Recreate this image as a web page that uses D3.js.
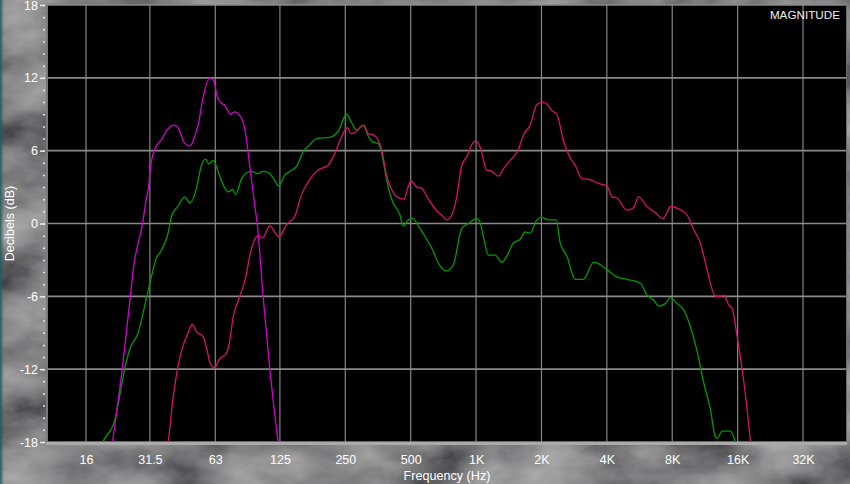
<!DOCTYPE html>
<html>
<head>
<meta charset="utf-8">
<script src="https://cdn.jsdelivr.net/npm/d3@7"></script>
<style>
html,body{margin:0;padding:0;background:#3a3a3a;overflow:hidden;}
svg{display:block;}
text{font-family:"Liberation Sans",Arial,sans-serif;}
</style>
</head>
<body>
<svg id="chart" width="850" height="484"></svg>
<script>
// ---------- data ----------
const xTickValues = [16, 31.5, 63, 125, 250, 500, 1000, 2000, 4000, 8000, 16000, 32000];
const xTickLabels = ["16","31.5","63","125","250","500","1K","2K","4K","8K","16K","32K"];
const yTickValues = [-18, -12, -6, 0, 6, 12, 18];
const yTickLabels = ["-18","-12","-6","0","6","12","18"];

const magentaHz = [20.1,21.2,23.5,25.6,26.5,29.2,30.3,31.1,31.6,33.1,35.6,37.5,40.2,42.0,45.6,48.4,50.7,52.8,55.1,59.4,62.2,64.2,67.3,69.1,74.2,77.4,79.7,84.5,87.7,90.1,92.5,96.4,98.1,104.6,112.3,122.6,128.9];
const magentaDb = [-21.1,-18.0,-12.0,-6.0,-3.6,0.1,2.0,3.1,4.4,6.1,6.9,7.6,8.1,8.0,6.6,6.4,7.2,8.3,10.2,12.0,11.7,10.5,9.9,9.8,9.0,9.2,9.1,8.4,6.9,5.2,3.6,1.1,0.1,-6.0,-12.0,-18.0,-21.1];

const greenHz = [18.1,19.1,21.7,22.7,24.1,25.4,27.8,30.5,32.0,33.5,35.6,38.2,39.6,42.3,45.6,48.0,50.7,51.9,54.4,56.9,58.8,61.6,65.4,68.9,72.1,75.6,78.3,83.2,88.0,92.8,98.9,104.3,110.3,115.9,123.5,131.7,138.8,149.1,159.9,171.7,184.3,212.3,231.9,253.5,267.3,281.9,302.3,318.8,336.2,354.5,367.5,387.6,408.7,446.3,462.2,487.4,514.0,542.0,592.6,635.6,659.0,732.7,785.9,859.2,921.5,1007,1043,1081,1140,1224,1314,1385,1486,1595,1682,1774,1905,2008,2154,2338,2439,2619,2860,3123,3473,3663,4004,4453,4952,5703,6123,6567,6925,7435,7840,8418,9029,9694,10409,11164,11987,12641,12872,13572,14822,15630,16137];
const greenDb = [-19.0,-18.0,-16.2,-14.5,-12.0,-10.4,-9.0,-6.0,-4.4,-3.0,-2.2,-0.8,0.6,1.4,2.2,1.7,2.4,3.1,4.8,5.3,4.9,5.2,4.1,3.1,2.6,2.8,2.4,3.7,4.2,4.3,4.1,4.3,4.2,3.8,3.1,4.0,4.3,4.7,5.9,6.5,7.0,7.1,7.6,9.0,8.3,7.7,8.1,7.2,6.7,6.6,5.8,3.6,2.0,0.7,-0.2,0.3,0.4,-0.2,-1.3,-2.3,-3.0,-3.9,-3.4,-0.4,0.0,0.4,0.1,-1.1,-2.6,-2.6,-3.2,-2.7,-1.6,-1.3,-0.7,-0.8,0.3,0.5,0.3,0.3,-1.6,-2.7,-4.6,-4.6,-3.2,-3.3,-3.8,-4.4,-4.6,-4.9,-5.9,-6.3,-6.8,-6.6,-6.1,-6.6,-7.1,-8.5,-10.5,-13.1,-15.3,-17.6,-17.7,-17.1,-17.1,-18.0,-19.0];

const crimsonHz = [36.8,38.2,40.2,42.7,44.7,47.2,49.4,51.6,55.3,57.7,59.4,62.6,65.6,70.9,74.0,76.1,79.4,84.6,87.0,91.5,97.5,100.2,103.9,112.3,123.5,134.1,146.4,157.2,165.8,177.8,187.5,208.5,219.9,236.1,248.9,256.2,265.3,281.9,291.9,304.6,318.8,336.2,350.8,367.5,387.6,408.7,431.0,465.7,482.3,501.6,532.9,562.0,602.7,635.6,670.2,694.8,732.7,772.7,814.8,859.2,906.0,955.4,1000,1043,1120,1181,1267,1336,1435,1567,1652,1774,1905,2030,2132,2233,2355,2526,2712,2860,3071,3354,3663,4004,4222,4453,4952,5311,5601,6123,6686,7256,7570,7840,8562,9361,10040,10781,11575,12641,13330,13806,14558,15093,15914,16782,17696,18330,18720];
const crimsonDb = [-19.0,-18.0,-14.5,-11.5,-10.1,-9.0,-8.3,-8.9,-9.3,-10.4,-11.4,-11.9,-11.2,-10.7,-9.3,-7.7,-6.6,-5.2,-4.4,-2.4,-1.1,-1.0,-1.2,-0.2,-1.1,-0.1,0.6,2.4,3.2,4.0,4.4,4.8,5.5,6.8,7.7,7.9,7.4,7.6,7.9,8.1,7.4,7.3,7.0,6.1,3.9,2.8,2.2,2.0,2.8,3.5,3.0,2.9,2.0,1.4,0.9,0.7,0.3,0.7,2.2,4.8,5.5,6.5,6.8,6.3,4.4,4.3,3.9,4.5,5.2,6.1,7.3,8.1,9.8,10.0,9.8,9.3,9.0,6.8,5.4,4.8,3.7,3.6,3.3,3.1,2.2,2.1,1.1,1.3,2.2,1.4,0.9,0.4,0.9,1.4,1.2,0.7,-0.5,-1.6,-3.8,-6.0,-6.0,-5.9,-6.7,-7.0,-9.3,-12.0,-15.3,-17.9,-19.0];

// ---------- layout ----------
const W = 850, H = 484;
const plot = {left: 48, right: 846, top: 5, bottom: 442};

const svg = d3.select("#chart");
const defs = svg.append("defs");

// smoky background
const f = defs.append("filter").attr("id","smoke").attr("x",0).attr("y",0).attr("width","100%").attr("height","100%");
f.append("feTurbulence").attr("type","fractalNoise").attr("baseFrequency","0.012 0.02").attr("numOctaves",5).attr("seed",11).attr("result","n");
f.append("feColorMatrix").attr("in","n").attr("type","matrix")
  .attr("values","0.5 0 0 0 -0.03  0.5 0 0 0 -0.03  0.5 0 0 0 -0.025  0 0 0 0 1");
svg.append("rect").attr("width",W).attr("height",H).attr("fill","#444").attr("filter","url(#smoke)");
const edge = defs.append("linearGradient").attr("id","edge").attr("x1",0).attr("x2",1);
edge.append("stop").attr("offset",0).attr("stop-color","#1f5a5a").attr("stop-opacity",0.9);
edge.append("stop").attr("offset",1).attr("stop-color","#1f5a5a").attr("stop-opacity",0);
svg.append("rect").attr("x",0).attr("y",0).attr("width",4).attr("height",H).attr("fill","url(#edge)");

// plot background
svg.append("rect").attr("x",plot.left).attr("y",plot.top)
  .attr("width",plot.right-plot.left).attr("height",plot.bottom-plot.top).attr("fill","#000");

// scales
const x = d3.scaleLog().base(2).domain([16, 32000]).range([86, 803]);
const y = d3.scaleLinear().domain([-18, 18]).range([plot.bottom, plot.top]);

// grid
const grid = svg.append("g");
grid.selectAll("line.v").data(xTickValues).enter().append("line")
  .attr("x1",d=>x(d)).attr("x2",d=>x(d)).attr("y1",plot.top).attr("y2",plot.bottom)
  .attr("stroke","#858585").attr("stroke-width",1.2);
grid.selectAll("line.h").data(yTickValues).enter().append("line")
  .attr("x1",plot.left).attr("x2",plot.right).attr("y1",d=>y(d)).attr("y2",d=>y(d))
  .attr("stroke","#8a8a8a").attr("stroke-width",1.6);

// frame
svg.append("line").attr("x1",plot.left-1).attr("x2",plot.left-1).attr("y1",plot.top).attr("y2",plot.bottom+2)
  .attr("stroke","#7a7a7a").attr("stroke-width",2);
svg.append("line").attr("x1",plot.right+0.5).attr("x2",plot.right+0.5).attr("y1",plot.top).attr("y2",plot.bottom)
  .attr("stroke","#6a6a6a").attr("stroke-width",1);
svg.append("line").attr("x1",plot.left-2).attr("x2",plot.right+1).attr("y1",plot.bottom+1.5).attr("y2",plot.bottom+1.5)
  .attr("stroke","#aaaaaa").attr("stroke-width",3);

// curves
defs.append("clipPath").attr("id","clip").append("rect")
  .attr("x",plot.left).attr("y",plot.top).attr("width",plot.right-plot.left).attr("height",plot.bottom-plot.top);
const line = d3.line().x(d=>x(d[0])).y(d=>y(d[1])).curve(d3.curveMonotoneX);
const series = [
  {hz: greenHz, db: greenDb, color: "#009a00"},
  {hz: crimsonHz, db: crimsonDb, color: "#d8106a"},
  {hz: magentaHz, db: magentaDb, color: "#d200d2"}
];
const cg = svg.append("g").attr("clip-path","url(#clip)");
series.forEach(s=>{
  cg.append("path").datum(d3.zip(s.hz, s.db))
    .attr("d",line).attr("fill","none").attr("stroke",s.color).attr("stroke-width",1.3);
});

// y axis: minor ticks
const yMinor = d3.axisLeft(y).tickValues(d3.range(-18, 19, 1)).tickSize(2).tickFormat("");
const gm = svg.append("g").attr("transform",`translate(${plot.left-3},0)`).call(yMinor);
gm.select(".domain").remove();
gm.selectAll("line").attr("stroke","#e8e8e8").attr("stroke-width",1.5);

// y axis major
const yAxis = d3.axisLeft(y).tickValues(yTickValues).tickSize(5).tickPadding(2)
  .tickFormat((d,i)=>yTickLabels[i]);
const gy = svg.append("g").attr("transform",`translate(${plot.left-3},0)`).call(yAxis);
gy.select(".domain").remove();
gy.selectAll("line").attr("stroke","#e8e8e8").attr("stroke-width",1.5);
gy.selectAll("text").attr("fill","#ffffff").style("font-size","12.5px")
  .style("font-family","'Liberation Sans',Arial,sans-serif");

// x axis labels
const xAxis = d3.axisBottom(x).tickValues(xTickValues).tickSize(0).tickPadding(10)
  .tickFormat((d,i)=>xTickLabels[i]);
const gx = svg.append("g").attr("transform",`translate(0,${plot.bottom+3})`).call(xAxis);
gx.select(".domain").remove();
gx.selectAll("text").attr("fill","#ffffff").style("font-size","12.5px")
  .style("font-family","'Liberation Sans',Arial,sans-serif");

// titles
svg.append("text").attr("x",(plot.left+plot.right)/2).attr("y",480)
  .attr("text-anchor","middle").attr("fill","#ffffff").style("font-size","12.6px").text("Frequency (Hz)");
svg.append("text").attr("transform",`translate(14,${(plot.top+plot.bottom)/2}) rotate(-90)`)
  .attr("text-anchor","middle").attr("fill","#ffffff").style("font-size","12.6px").text("Decibels (dB)");
svg.append("text").attr("x",840).attr("y",18.5).attr("text-anchor","end")
  .attr("fill","#f0f0f0").style("font-size","11.7px").text("MAGNITUDE");
</script>
</body>
</html>
